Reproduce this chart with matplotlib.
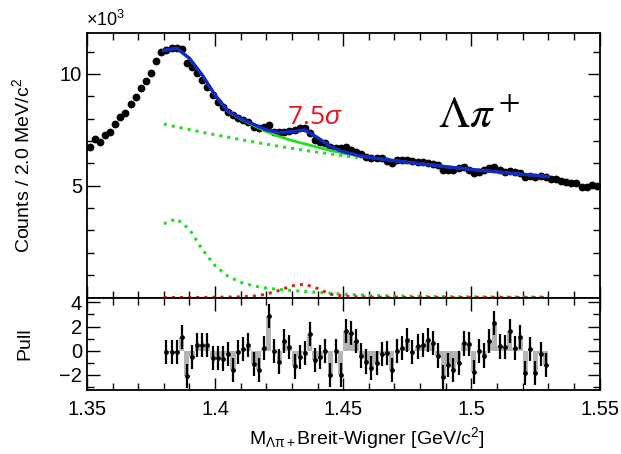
import matplotlib
matplotlib.use("Agg")
import matplotlib.pyplot as plt
import numpy as np

plt.rcParams['font.family'] = ['Liberation Sans', 'DejaVu Sans']
plt.rcParams['mathtext.fontset'] = 'custom'
plt.rcParams['mathtext.rm'] = 'Liberation Sans'
plt.rcParams['mathtext.it'] = 'Liberation Sans:italic'

# data points (counts / 1000), 2 MeV bins from 1.35 to 1.55
mass = np.round(1.351 + 0.002 * np.arange(100), 3)
counts = [6.74, 7.07, 6.96, 7.26, 7.39, 7.76, 8.06, 8.24, 8.65, 8.98,
          9.36, 9.70, 10.03, 10.60, 10.96, 11.08, 11.18, 11.18, 11.11, 10.48,
          10.33, 10.03, 9.73, 9.43, 9.06, 8.76, 8.51, 8.31, 8.16, 8.01,
          7.94, 7.86, 7.64, 7.57, 7.64, 7.71, 7.41, 7.41, 7.41, 7.45,
          7.49, 7.57, 7.57, 7.34, 7.04, 6.96, 6.89, 6.74, 6.67, 6.67,
          6.74, 6.59, 6.52, 6.40, 6.29, 6.22, 6.25, 6.22, 6.10, 6.00,
          6.14, 6.14, 6.14, 6.10, 6.07, 6.05, 6.02, 5.98, 5.92, 5.70,
          5.72, 5.70, 5.80, 5.84, 5.70, 5.55, 5.62, 5.70, 5.78, 5.84,
          5.70, 5.62, 5.65, 5.62, 5.55, 5.39, 5.45, 5.39, 5.42, 5.39,
          5.32, 5.30, 5.20, 5.17, 5.12, 5.10, 4.95, 4.96, 5.02, 4.97]

# fit curves sampled every 5 MeV from 1.38 to 1.53
fit_x = np.linspace(1.38, 1.53, 31)
total_fit = [11.05, 11.15, 10.70, 9.95, 9.05, 8.35, 8.01, 7.75, 7.50, 7.38,
             7.42, 7.50, 7.15, 6.75, 6.52, 6.38, 6.28, 6.19, 6.12, 6.05,
             5.98, 5.92, 5.85, 5.79, 5.73, 5.67, 5.62, 5.56, 5.51, 5.46, 5.41]
total_bkg = [11.05, 11.15, 10.70, 9.95, 9.05, 8.33, 7.98, 7.70, 7.42, 7.20,
             7.02, 6.87, 6.72, 6.58, 6.46, 6.35, 6.27, 6.19, 6.12, 6.05,
             5.98, 5.92, 5.85, 5.79, 5.73, 5.67, 5.62, 5.56, 5.51, 5.46, 5.41]
bkg_poly = [7.76, 7.63, 7.51, 7.39, 7.28, 7.17, 7.06, 6.96, 6.86, 6.76,
            6.67, 6.58, 6.50, 6.42, 6.34, 6.27, 6.20, 6.13, 6.07, 6.01,
            5.95, 5.89, 5.83, 5.78, 5.72, 5.66, 5.61, 5.55, 5.50, 5.45, 5.40]
bkg_peak = [3.30, 3.52, 3.05, 2.15, 1.42, 0.95, 0.68, 0.52, 0.42, 0.36,
            0.31, 0.27, 0.23, 0.19, 0.15, 0.12, 0.10, 0.08, 0.07, 0.06,
            0.05, 0.04, 0.04, 0.03, 0.03, 0.03, 0.02, 0.02, 0.02, 0.02, 0.02]
signal = [0.0, 0.0, 0.0, 0.0, 0.01, 0.02, 0.03, 0.06, 0.15, 0.32,
          0.52, 0.60, 0.40, 0.15, 0.06, 0.03, 0.02, 0.01, 0.01, 0.0,
          0.0, 0.0, 0.0, 0.0, 0.0, 0.0, 0.0, 0.0, 0.0, 0.0, 0.0]

# pulls, 2 MeV bins from 1.38 to 1.53
pull_x = np.round(1.381 + 0.002 * np.arange(75), 3)
pulls = [-0.1, -0.1, -0.1, 1.1, -2.1, -0.5, 0.5, 0.5, 0.5, -0.6,
         -0.6, -0.65, -0.3, -1.6, -0.1, 0.15, 0.5, -1.1, -1.6, 0.2,
         2.85, -0.05, -0.9, 0.8, 0.3, -1.3, -0.5, -0.2, 1.4, -0.75,
         -0.5, -0.05, -2.0, 0.0, -2.0, 1.65, 1.45, 0.8, -0.4, -0.9,
         -1.4, -1.0, -0.3, -0.2, -1.6, 0.0, 0.2, 0.9, -0.1, 0.35,
         0.5, 0.9, 0.65, -0.4, -2.2, -1.15, -1.6, -1.0, 0.6, 0.55,
         -1.75, -0.05, -0.4, 0.8, 2.3, 0.35, 0.3, 1.65, 0.2, 1.1,
         -1.85, 0.15, -1.85, -0.3, -1.15]

xticks = [1.35, 1.40, 1.45, 1.50, 1.55]
xtick_labels = ["1.35", "1.4", "1.45", "1.5", "1.55"]

fig = plt.figure(figsize=(6.21, 4.54), dpi=100)
ax = fig.add_axes([0.140, 0.3447, 0.8254, 0.5826])
axp = fig.add_axes([0.140, 0.141, 0.8254, 0.2037])

green = "#22dd22"
ax.plot(mass, counts, 'o', color='black', markersize=4.6, zorder=3)
ax.plot(fit_x, bkg_poly, ':', color=green, lw=2.2, zorder=2)
ax.plot(fit_x, bkg_peak, ':', color=green, lw=2.2, zorder=2)
ax.plot(fit_x, signal, ':', color='#e02020', lw=2.2, zorder=2)
ax.plot(fit_x, total_bkg, '-', color=green, lw=2.0, zorder=4)
ax.plot(fit_x, total_fit, '-', color='#1428c8', lw=2.4, zorder=5)

ax.set_xlim(1.35, 1.55)
ax.set_ylim(0, 11.83)
ax.set_yticks([5, 10])
ax.set_yticks(np.arange(1, 12), minor=True)
ax.set_xticks(xticks)
ax.set_xticks(np.arange(1.35, 1.551, 0.01), minor=True)
ax.tick_params(axis='x', labelbottom=False)
ax.set_ylabel("Counts / 2.0 MeV/c$^2$", fontsize=14)
ax.yaxis.set_label_coords(-0.105, 0.5)

ax.text(1.4389, 7.78, "7.5$\\sigma$", color='#e8141c', fontsize=19,
        ha='center', va='baseline', family=['Open Sans', 'DejaVu Sans'])
ax.text(1.5032, 7.58, r"$\Lambda\pi^+$", fontsize=32, ha='center',
        va='baseline', math_fontfamily='stix')
fig.text(0.138, 1 - 26 / 454, "\u00d710$^3$", fontsize=13, va='baseline')

axp.bar(pull_x, pulls, width=0.002, color='#b4b4b4', zorder=1)
axp.errorbar(pull_x, pulls, yerr=1.0, fmt='o', color='black', markersize=2.4,
             elinewidth=1.6, capsize=0, zorder=2)
axp.set_xlim(1.35, 1.55)
axp.set_ylim(-3.25, 4.4)
axp.set_yticks([-2, 0, 2, 4])
axp.set_yticklabels(["\u22122", "0", "2", "4"])
axp.set_yticks(np.arange(-3, 5), minor=True)
axp.set_xticks(xticks)
axp.set_xticklabels(xtick_labels)
axp.set_xticks(np.arange(1.35, 1.551, 0.01), minor=True)
axp.set_ylabel("Pull", fontsize=14)
axp.yaxis.set_label_coords(-0.105, 0.5)

for a in (ax, axp):
    a.tick_params(which='both', direction='in', top=True, right=True,
                  labelsize=14.5, width=1.0)
    a.tick_params(which='major', length=9)
    a.tick_params(which='minor', length=5)
    for s in a.spines.values():
        s.set_linewidth(1.3)
axp.tick_params(axis='x', pad=7)

fig.text(367 / 621, 1 - 438 / 454,
         r"M$_{\mathrm{\Lambda\pi+}}$Breit-Wigner [GeV/c$^2$]",
         fontsize=14, ha='center', va='center')

fig.savefig("out.png", dpi=100)
